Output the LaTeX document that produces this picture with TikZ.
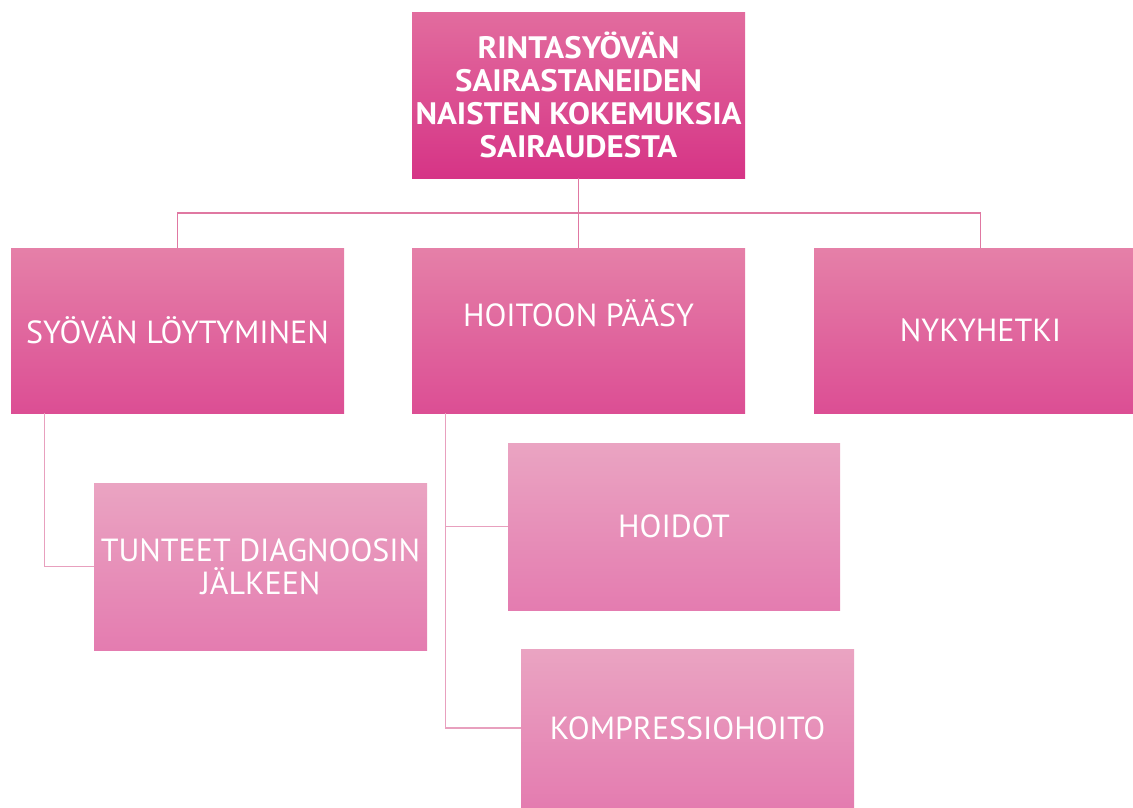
\documentclass[tikz,border=0pt]{standalone}
\usepackage{fontspec}
\setmainfont{PT Sans}
\newfontfamily\titlefont{PT Sans}[FakeStretch=1.06]
\definecolor{lineA}{RGB}{224,120,162}
\definecolor{lineB}{RGB}{232,160,190}
\definecolor{tA}{RGB}{226,108,158}
\definecolor{mA}{RGB}{222,46,140}
\definecolor{bA}{RGB}{214,52,134}
\definecolor{tB}{RGB}{229,128,168}
\definecolor{mB}{RGB}{226,70,152}
\definecolor{bB}{RGB}{220,78,148}
\definecolor{tC}{RGB}{234,164,194}
\definecolor{mC}{RGB}{234,122,182}
\definecolor{bC}{RGB}{228,124,176}
\tikzset{
  boxbase/.style={rectangle, draw=none, text=white, align=center, inner sep=0pt},
  lvlA/.style={boxbase, top color=tA, middle color=mA, bottom color=bA, font=\titlefont\fontsize{31}{33}\selectfont\bfseries},
  lvlB/.style={boxbase, top color=tB, middle color=mB, bottom color=bB, font=\fontsize{32}{33}\selectfont},
  lvlC/.style={boxbase, top color=tC, middle color=mC, bottom color=bC, font=\fontsize{32}{33}\selectfont},
  conA/.style={draw=lineA, line width=1.3pt},
  conB/.style={draw=lineB, line width=1.3pt},
}
\begin{document}
\begin{tikzpicture}[x=1pt,y=-1pt]
\useasboundingbox (0,0) rectangle (1133,807);
\node[lvlA, minimum width=333pt, minimum height=166pt] (root) at (578.5,95) {RINTASYÖVÄN\\SAIRASTANEIDEN\\NAISTEN KOKEMUKSIA\\SAIRAUDESTA};
\node[lvlB, minimum width=333pt, minimum height=165pt] (syo) at (177.5,330.5) {SYÖVÄN LÖYTYMINEN};
\node[lvlB, minimum width=333pt, minimum height=165pt,
      label={[text=white, font=\fontsize{32}{33}\selectfont, yshift=17pt]center:HOITOON PÄÄSY}] (hoi) at (578.5,330.5) {};
\node[lvlB, minimum width=333pt, minimum height=165pt] (nyk) at (980.5,330.5) {NYKYHETKI};
\node[lvlC, minimum width=333pt, minimum height=167pt] (tun) at (260.5,566.5) {TUNTEET DIAGNOOSIN\\JÄLKEEN};
\node[lvlC, minimum width=332pt, minimum height=167pt] (hod) at (674,526.5) {HOIDOT};
\node[lvlC, minimum width=333pt, minimum height=158pt] (kom) at (687.5,728) {KOMPRESSIOHOITO};
\coordinate (bus) at (578.5,213);
\draw[conA] (root.south) -- (bus);
\draw[conA] (bus) -| (syo.north);
\draw[conA] (bus) -- (hoi.north);
\draw[conA] (bus) -| (nyk.north);
\draw[conB] ([xshift=-133pt]syo.south) |- (tun.west);
\draw[conB] ([xshift=-133pt]hoi.south) |- (hod.west);
\draw[conB] ([xshift=-133pt]hoi.south) |- (kom.west);
\end{tikzpicture}
\end{document}
